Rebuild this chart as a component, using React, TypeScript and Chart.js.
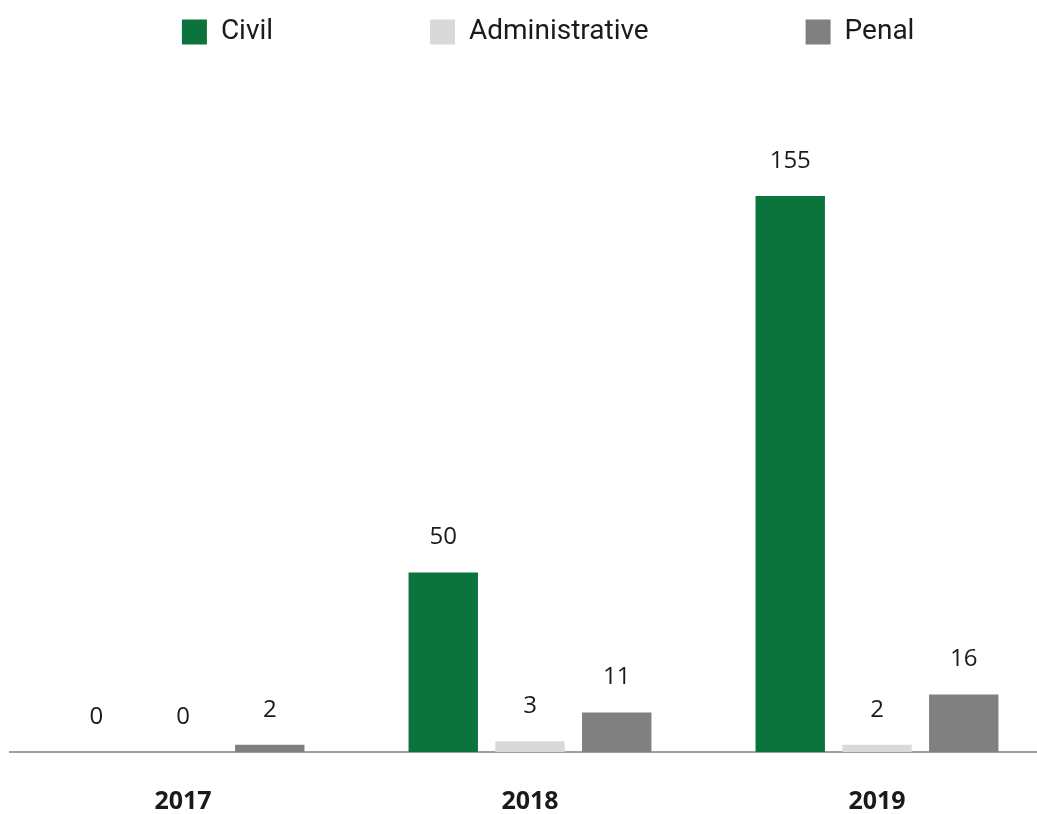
import React, { useEffect, useRef } from "react";
import { Chart, registerables } from "chart.js";

Chart.register(...registerables);

const categories = ["2017", "2018", "2019"];
const seriesNames = ["Civil", "Administrative", "Penal"];
const civilValues = [0, 50, 155];
const administrativeValues = [0, 3, 2];
const penalValues = [2, 11, 16];
const seriesColors = ["#0a743c", "#d9d9d9", "#808080"];
const legendSpacers = [20, 20, 17];

const valueLabels = {
  id: "valueLabels",
  afterDatasetsDraw(chart: any) {
    const ctx = chart.ctx;
    ctx.save();
    ctx.font = "24px 'Open Sans', sans-serif";
    ctx.fillStyle = "#1a1a1a";
    ctx.textAlign = "center";
    ctx.textBaseline = "middle";
    chart.data.datasets.forEach((ds: any, di: number) => {
      const meta = chart.getDatasetMeta(di);
      meta.data.forEach((el: any, i: number) => {
        ctx.fillText(String(ds.data[i]), el.x, el.y - 35);
      });
    });
    ctx.restore();
  },
};

export default function App() {
  const ref = useRef<HTMLCanvasElement | null>(null);
  useEffect(() => {
    if (!ref.current) return;
    const values = [civilValues, administrativeValues, penalValues];
    const chart = new Chart(ref.current, {
      type: "bar",
      data: {
        labels: categories,
        datasets: seriesNames.map((name, i) => ({
          label: name,
          data: values[i],
          backgroundColor: seriesColors[i],
          borderWidth: 0,
          categoryPercentage: 0.75,
          barPercentage: 0.8,
        })),
      },
      options: {
        animation: false,
        responsive: true,
        maintainAspectRatio: false,
        layout: { padding: { left: 9.5, right: 9.5, top: 0, bottom: 0 } },
        plugins: {
          tooltip: { enabled: false },
          legend: {
            position: "top",
            align: "end",
            labels: {
              boxWidth: 25,
              boxHeight: 25,
              padding: 18,
              color: "#1a1a1a",
              font: { family: "Roboto, 'Open Sans', sans-serif", size: 28 },
              generateLabels: (c: any) =>
                c.data.datasets.map((ds: any, i: number) => ({
                  text: ds.label + " ".repeat(legendSpacers[i]),
                  fillStyle: seriesColors[i],
                  strokeStyle: seriesColors[i],
                  lineWidth: 0,
                  hidden: false,
                  datasetIndex: i,
                  fontColor: "#1a1a1a",
                })),
            },
          },
        },
        scales: {
          x: {
            grid: { display: false },
            border: { display: true, color: "#a0a0a0", width: 2 },
            ticks: {
              color: "#1a1a1a",
              padding: 27,
              font: { family: "'Open Sans', sans-serif", size: 25, weight: "bold" },
            },
          },
          y: {
            display: false,
            min: 0,
            max: 194,
          },
        },
      },
      plugins: [valueLabels],
    });
    return () => chart.destroy();
  }, []);
  return (
    <div style={{ position: "absolute", left: 0, top: 0, width: 1037, height: 814, overflow: "hidden", background: "#fff" }}>
      <div style={{ position: "relative", width: 1060, height: 844 }}>
        <canvas ref={ref} />
      </div>
    </div>
  );
}
